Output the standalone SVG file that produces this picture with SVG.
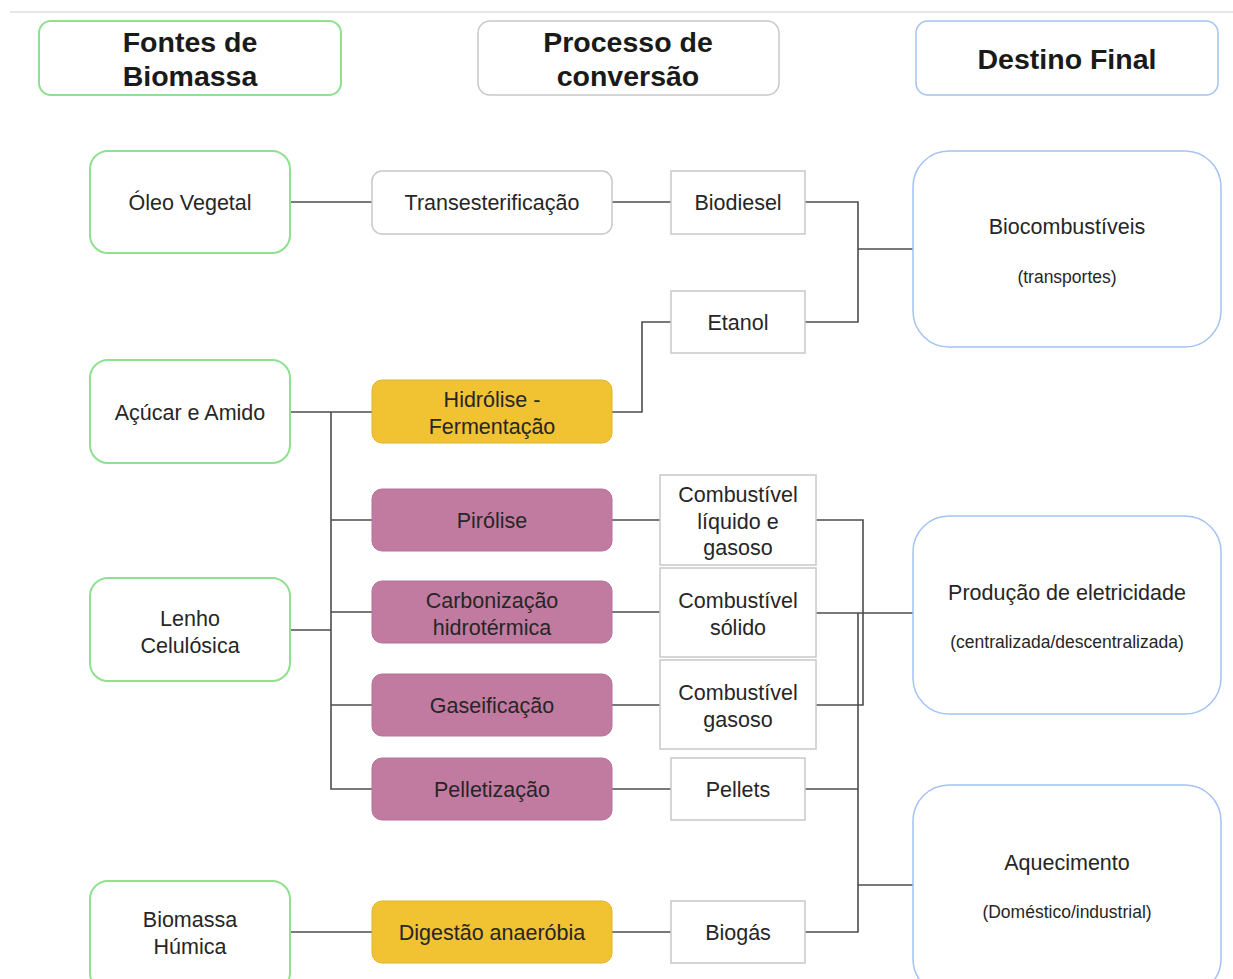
<svg xmlns="http://www.w3.org/2000/svg" width="1233" height="979" viewBox="0 0 1233 979">
<style>
text{font-family:"Liberation Sans",Arial,sans-serif;fill:#262626;text-anchor:middle}
.h{font-size:28.5px;font-weight:bold;fill:#1a1a1a}
.t{font-size:21.5px}
.s{font-size:17.5px}
.src{fill:#fff;stroke:#8fe08f;stroke-width:2}
.hdg{fill:#fff;stroke:#c8c8c8;stroke-width:1.5}
.hdb{fill:#fff;stroke:#a4c2f4;stroke-width:1.5}
.proc{fill:#fff;stroke:#c8c8c8;stroke-width:1.5}
.yel{fill:#f1c232;stroke:#e0b22a;stroke-width:1}
.pink{fill:#c27ba0;stroke:#b5729a;stroke-width:1}
.prod{fill:#fff;stroke:#c8c8c8;stroke-width:1.5}
.dest{fill:#fff;stroke:#a4c2f4;stroke-width:1.5}
.c{fill:none;stroke:#4d4d4d;stroke-width:1.6}
</style>
<rect width="1233" height="979" fill="#fff"/>
<line x1="10" y1="12" x2="1233" y2="12" stroke="#e6e6e6" stroke-width="2"/>

<g id="connectors">
<path class="c" d="M290 202H372"/>
<path class="c" d="M612 202H671"/>
<path class="c" d="M805 202H858V322H805"/>
<path class="c" d="M858 249H913"/>
<path class="c" d="M612 412H642V322H671"/>
<path class="c" d="M290 412H372"/>
<path class="c" d="M331 412V789H372"/>
<path class="c" d="M331 520H372"/>
<path class="c" d="M331 612H372"/>
<path class="c" d="M331 705H372"/>
<path class="c" d="M290 630H331"/>
<path class="c" d="M612 520H660"/>
<path class="c" d="M612 612H660"/>
<path class="c" d="M612 705H660"/>
<path class="c" d="M612 789H671"/>
<path class="c" d="M816 520H863V705H816"/>
<path class="c" d="M816 613H913"/>
<path class="c" d="M858 613V932H805"/>
<path class="c" d="M805 789H858"/>
<path class="c" d="M858 885H913"/>
<path class="c" d="M290 932H372"/>
<path class="c" d="M612 932H671"/>
</g>

<g id="hdr-fontes"><rect class="src" x="39" y="21" width="302" height="74" rx="12"/><text class="h" x="190" y="52">Fontes de</text><text class="h" x="190" y="86">Biomassa</text></g>
<g id="hdr-processo"><rect class="hdg" x="478" y="21" width="301" height="74" rx="12"/><text class="h" x="628" y="52">Processo de</text><text class="h" x="628" y="86">conversão</text></g>
<g id="hdr-destino"><rect class="hdb" x="916" y="21" width="302" height="74" rx="12"/><text class="h" x="1067" y="69">Destino Final</text></g>

<g id="oleo"><rect class="src" x="90" y="151" width="200" height="102" rx="18"/><text class="t" x="190" y="210">Óleo Vegetal</text></g>
<g id="acucar"><rect class="src" x="90" y="360" width="200" height="103" rx="18"/><text class="t" x="190" y="420">Açúcar e Amido</text></g>
<g id="lenho"><rect class="src" x="90" y="578" width="200" height="103" rx="18"/><text class="t" x="190" y="626">Lenho</text><text class="t" x="190" y="653">Celulósica</text></g>
<g id="humica"><rect class="src" x="90" y="881" width="200" height="110" rx="18"/><text class="t" x="190" y="927">Biomassa</text><text class="t" x="190" y="954">Húmica</text></g>

<g id="transest"><rect class="proc" x="372" y="171" width="240" height="63" rx="10"/><text class="t" x="492" y="210">Transesterificação</text></g>
<g id="hidrolise"><rect class="yel" x="372" y="380" width="240" height="63" rx="10"/><text class="t" x="492" y="407">Hidrólise -</text><text class="t" x="492" y="434">Fermentação</text></g>
<g id="pirolise"><rect class="pink" x="372" y="489" width="240" height="62" rx="10"/><text class="t" x="492" y="528">Pirólise</text></g>
<g id="carbon"><rect class="pink" x="372" y="581" width="240" height="62" rx="10"/><text class="t" x="492" y="608">Carbonização</text><text class="t" x="492" y="635">hidrotérmica</text></g>
<g id="gaseif"><rect class="pink" x="372" y="674" width="240" height="62" rx="10"/><text class="t" x="492" y="713">Gaseificação</text></g>
<g id="pellet"><rect class="pink" x="372" y="758" width="240" height="62" rx="10"/><text class="t" x="492" y="797">Pelletização</text></g>
<g id="digestao"><rect class="yel" x="372" y="901" width="240" height="62" rx="10"/><text class="t" x="492" y="940">Digestão anaeróbia</text></g>

<g id="biodiesel"><rect class="prod" x="671" y="171" width="134" height="63"/><text class="t" x="738" y="210">Biodiesel</text></g>
<g id="etanol"><rect class="prod" x="671" y="291" width="134" height="62"/><text class="t" x="738" y="330">Etanol</text></g>
<g id="comb-liq"><rect class="prod" x="660" y="475" width="156" height="90"/><text class="t" x="738" y="502">Combustível</text><text class="t" x="738" y="529">líquido e</text><text class="t" x="738" y="555">gasoso</text></g>
<g id="comb-sol"><rect class="prod" x="660" y="568" width="156" height="89"/><text class="t" x="738" y="608">Combustível</text><text class="t" x="738" y="635">sólido</text></g>
<g id="comb-gas"><rect class="prod" x="660" y="660" width="156" height="89"/><text class="t" x="738" y="700">Combustível</text><text class="t" x="738" y="727">gasoso</text></g>
<g id="pellets"><rect class="prod" x="671" y="758" width="134" height="62"/><text class="t" x="738" y="797">Pellets</text></g>
<g id="biogas"><rect class="prod" x="671" y="901" width="134" height="62"/><text class="t" x="738" y="940">Biogás</text></g>

<g id="biocomb"><rect class="dest" x="913" y="151" width="308" height="196" rx="36"/><text class="t" x="1067" y="234">Biocombustíveis</text><text class="s" x="1067" y="283">(transportes)</text></g>
<g id="eletric"><rect class="dest" x="913" y="516" width="308" height="198" rx="36"/><text class="t" x="1067" y="600">Produção de eletricidade</text><text class="s" x="1067" y="648">(centralizada/descentralizada)</text></g>
<g id="aquec"><rect class="dest" x="913" y="785" width="308" height="210" rx="36"/><text class="t" x="1067" y="870">Aquecimento</text><text class="s" x="1067" y="918">(Doméstico/industrial)</text></g>
</svg>
